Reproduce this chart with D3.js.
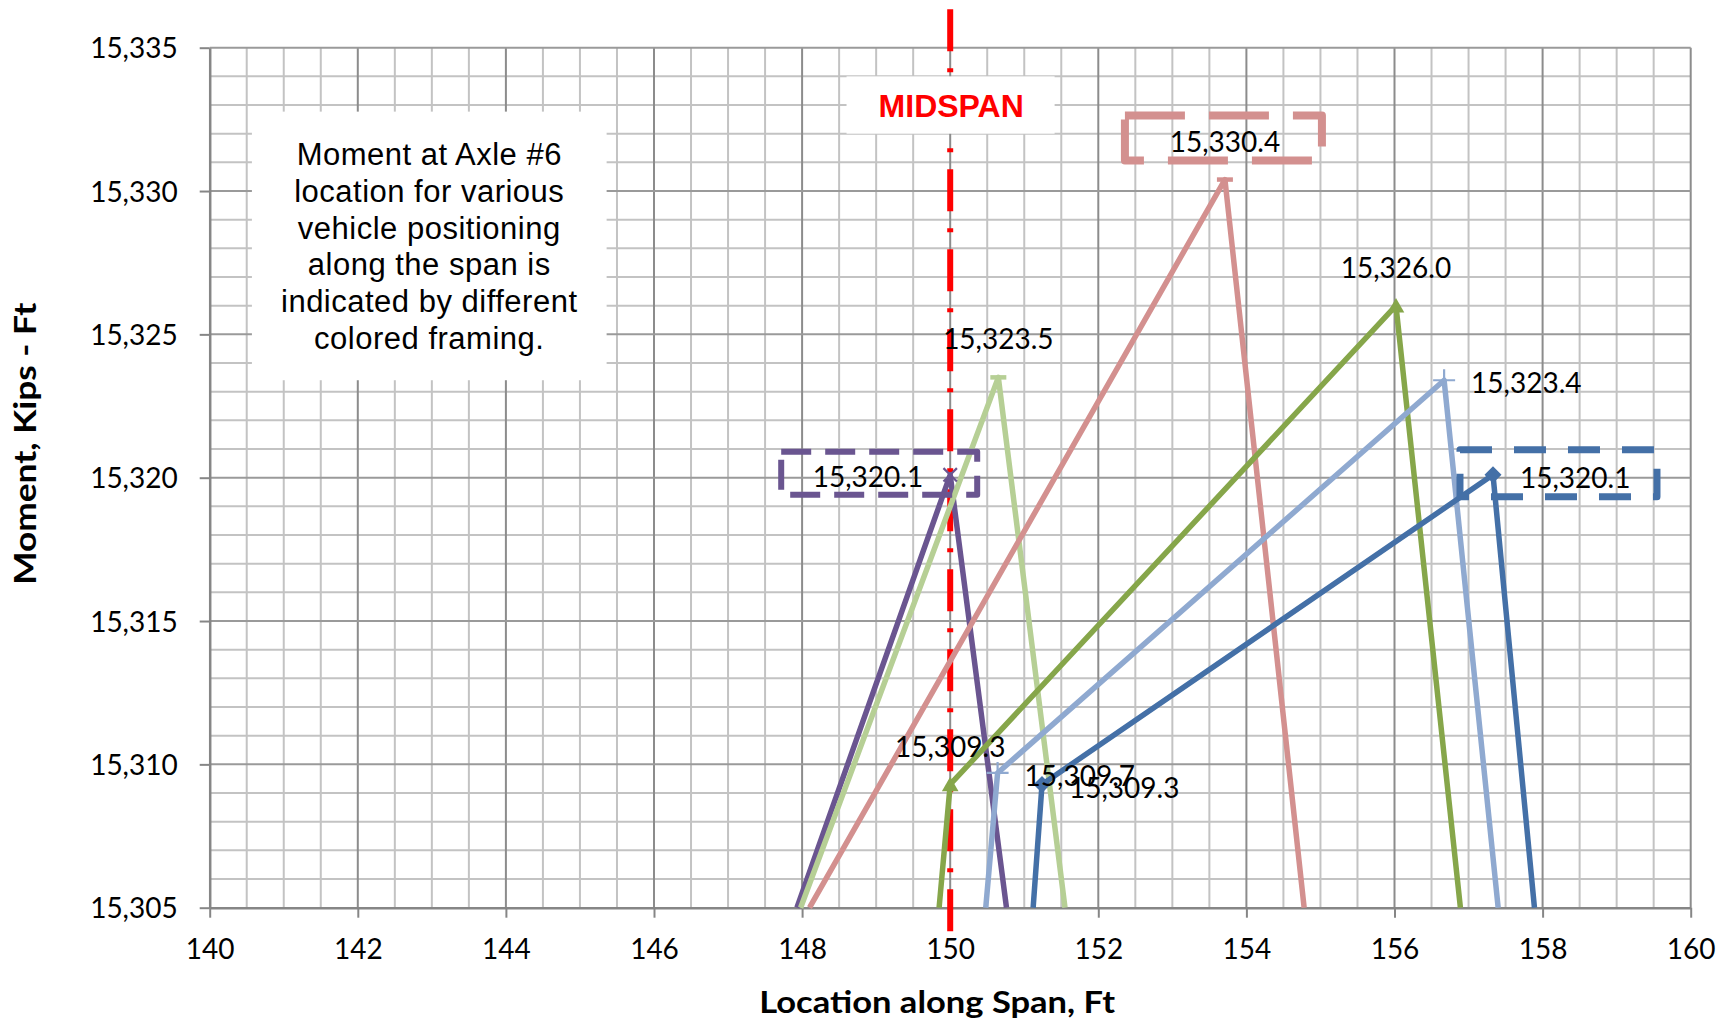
<!DOCTYPE html>
<html>
<head>
<meta charset="utf-8">
<script src="https://cdn.jsdelivr.net/npm/d3@7"></script>
<style>
  body { margin: 0; background: #ffffff; }
  svg { display: block; }
</style>
</head>
<body>
<svg id="chart" width="1726" height="1021"></svg>
<script>
// ---------------- DATA ----------------
const xTickValues = [140, 142, 144, 146, 148, 150, 152, 154, 156, 158, 160];
const yTickValues = [15305, 15310, 15315, 15320, 15325, 15330, 15335];
const xTitle = "Location along Span, Ft";
const yTitle = "Moment, Kips - Ft";
const midspanX = 150;
const midspanLabel = "MIDSPAN";
const noteLines = [
  "Moment at Axle #6",
  "location for various",
  "vehicle positioning",
  "along the span is",
  "indicated by different",
  "colored framing."
];

// Each vehicle position: location along span (ft) and moment (kip-ft)
const purpleX    = [147.93, 150.00, 150.76];
const purpleY    = [15305.0, 15320.1, 15305.0];
const lightGreenX = [147.98, 150.65, 151.55];
const lightGreenY = [15305.0, 15323.5, 15305.0];
const pinkX      = [148.10, 153.71, 154.78];
const pinkY      = [15305.0, 15330.4, 15305.0];
const oliveX     = [149.85, 150.00, 156.02, 156.89];
const oliveY     = [15305.0, 15309.3, 15326.0, 15305.0];
const lightBlueX = [150.48, 150.64, 156.67, 157.40];
const lightBlueY = [15305.0, 15309.7, 15323.4, 15305.0];
const darkBlueX  = [151.12, 151.24, 157.33, 157.89];
const darkBlueY  = [15305.0, 15309.3, 15320.1, 15305.0];

// ---------------- STYLE / LAYOUT ----------------
const seriesList = [
  { key: "purple",     xs: purpleX,     ys: purpleY,     color: "#6a5590", marker: "x",        labels: [{ i: 1, pos: "left" }] },
  { key: "lightGreen", xs: lightGreenX, ys: lightGreenY, color: "#b6cf95", marker: "dash",     labels: [{ i: 1, pos: "above" }] },
  { key: "pink",       xs: pinkX,       ys: pinkY,       color: "#d3908f", marker: "dash",     labels: [{ i: 1, pos: "above" }] },
  { key: "olive",      xs: oliveX,      ys: oliveY,      color: "#86a64a", marker: "triangle", labels: [{ i: 1, pos: "above" }, { i: 2, pos: "above" }] },
  { key: "lightBlue",  xs: lightBlueX,  ys: lightBlueY,  color: "#8fa9d0", marker: "plus",     labels: [{ i: 1, pos: "right" }, { i: 2, pos: "right" }] },
  { key: "darkBlue",   xs: darkBlueX,   ys: darkBlueY,   color: "#4470a7", marker: "diamond",  labels: [{ i: 1, pos: "right" }, { i: 2, pos: "right" }] }
];

// dashed frames around chosen labels (offsets relative to the framed point)
const frames = [
  { key: "purple",   i: 1, dx: -169, dy: -23, w: 196, h: 43, dash: "30 14", sw: 6 },
  { key: "pink",     i: 1, dx: -100, dy: -64, w: 197, h: 45, dash: "60 24", sw: 8 },
  { key: "darkBlue", i: 2, dx: -33,  dy: -25, w: 197, h: 47, dash: "32 22", sw: 7 }
];

const W = 1726, H = 1021;
const plot = { left: 209.7, right: 1690.7, top: 47.7, bottom: 907.7 };

const svg = d3.select("#chart");
const x = d3.scaleLinear().domain([140, 160]).range([plot.left, plot.right]);
const y = d3.scaleLinear().domain([15305, 15335]).range([plot.bottom, plot.top]);

// ---------------- GRID ----------------
const grid = svg.append("g");
const minorX = d3.range(140, 160.001, 0.5).filter(v => Math.abs(v / 2 - Math.round(v / 2)) > 1e-6);
const minorY = d3.range(15305, 15335.001, 1).filter(v => v % 5 !== 0);
grid.selectAll("line.mx").data(minorX).join("line")
  .attr("x1", d => x(d)).attr("x2", d => x(d)).attr("y1", plot.top).attr("y2", plot.bottom)
  .attr("stroke", "#c3c3c3").attr("stroke-width", 2);
grid.selectAll("line.my").data(minorY).join("line")
  .attr("x1", plot.left).attr("x2", plot.right).attr("y1", d => y(d)).attr("y2", d => y(d))
  .attr("stroke", "#c3c3c3").attr("stroke-width", 2);
grid.selectAll("line.Mx").data(xTickValues.slice(1)).join("line")
  .attr("x1", d => x(d)).attr("x2", d => x(d)).attr("y1", plot.top).attr("y2", plot.bottom)
  .attr("stroke", "#8c8c8c").attr("stroke-width", 2);
grid.selectAll("line.My").data(yTickValues.slice(1)).join("line")
  .attr("x1", plot.left).attr("x2", plot.right).attr("y1", d => y(d)).attr("y2", d => y(d))
  .attr("stroke", "#9a9a9a").attr("stroke-width", 2);

// ---------------- NOTE BOX ----------------
const noteBox = { x0: x(140.57), x1: x(145.36), y0: y(15332.77), y1: y(15323.4) };
svg.append("rect")
  .attr("x", noteBox.x0).attr("y", noteBox.y0)
  .attr("width", noteBox.x1 - noteBox.x0).attr("height", noteBox.y1 - noteBox.y0)
  .attr("fill", "#ffffff");
const noteCx = (noteBox.x0 + noteBox.x1) / 2;
svg.append("g").selectAll("text").data(noteLines).join("text")
  .attr("x", noteCx)
  .attr("y", (d, i) => noteBox.y0 + 53.5 + i * 36.7)
  .attr("text-anchor", "middle")
  .attr("font-family", "'Liberation Sans', Arial, sans-serif")
  .attr("font-size", 31)
  .attr("letter-spacing", 0.5)
  .attr("fill", "#000")
  .text(d => d);

// ---------------- AXES ----------------
const fmt = d3.format(",");
const xAxis = svg.append("g").attr("transform", `translate(0,${plot.bottom})`)
  .call(d3.axisBottom(x).tickValues(xTickValues).tickSize(10).tickSizeOuter(0).tickFormat(d3.format("d")));
xAxis.select(".domain").attr("stroke", "#868686").attr("stroke-width", 2.5);
xAxis.selectAll(".tick line").attr("stroke", "#868686").attr("stroke-width", 2);
xAxis.selectAll(".tick text")
  .attr("y", 51).attr("dy", null)
  .attr("font-family", "Lato, 'Open Sans', sans-serif").attr("font-size", 28).attr("fill", "#000");

const yAxis = svg.append("g").attr("transform", `translate(${plot.left},0)`)
  .call(d3.axisLeft(y).tickValues(yTickValues).tickSize(10).tickSizeOuter(0).tickFormat(fmt));
yAxis.select(".domain").attr("stroke", "#868686").attr("stroke-width", 2.5);
yAxis.selectAll(".tick line").attr("stroke", "#868686").attr("stroke-width", 2);
yAxis.selectAll(".tick text")
  .attr("x", -32).attr("dy", "0.36em")
  .attr("font-family", "Lato, 'Open Sans', sans-serif").attr("font-size", 28).attr("fill", "#000");

svg.append("text")
  .attr("x", (plot.left + plot.right) / 2 - 13).attr("y", 1013)
  .attr("text-anchor", "middle")
  .attr("font-family", "Lato, 'Open Sans', sans-serif").attr("font-weight", "bold")
  .attr("font-size", 30).attr("textLength", 356).attr("lengthAdjust", "spacingAndGlyphs")
  .text(xTitle);
svg.append("text")
  .attr("transform", `translate(36,${(plot.top + plot.bottom) / 2 - 34}) rotate(-90)`)
  .attr("text-anchor", "middle")
  .attr("font-family", "Lato, 'Open Sans', sans-serif").attr("font-weight", "bold")
  .attr("font-size", 30).attr("textLength", 282).attr("lengthAdjust", "spacingAndGlyphs")
  .text(yTitle);

// ---------------- MIDSPAN LINE ----------------
svg.append("line")
  .attr("x1", x(midspanX)).attr("x2", x(midspanX))
  .attr("y1", y(15335) - 38.4).attr("y2", y(15305) + 23.6)
  .attr("stroke", "#ff0000").attr("stroke-width", 6)
  .attr("stroke-dasharray", "42 17 4 17");

// ---------------- SERIES ----------------
const lineGen = d3.line().x(d => x(d[0])).y(d => y(d[1]));
const seriesG = svg.append("g");
seriesList.forEach(s => {
  const pts = s.xs.map((v, i) => [v, s.ys[i]]);
  seriesG.append("path")
    .datum(pts)
    .attr("d", lineGen)
    .attr("fill", "none")
    .attr("stroke", s.color)
    .attr("stroke-width", 5.5)
    .attr("stroke-linejoin", "round");
});

// markers on labeled points
function drawMarker(g, s, px, py) {
  if (s.marker === "x") {
    g.append("path").attr("transform", `translate(${px},${py})`)
      .attr("d", d3.symbol(d3.symbolTimes, 120)())
      .attr("fill", "none").attr("stroke", s.color).attr("stroke-width", 2.2);
  } else if (s.marker === "plus") {
    g.append("path").attr("transform", `translate(${px},${py})`)
      .attr("d", d3.symbol(d3.symbolPlus, 160)())
      .attr("fill", "none").attr("stroke", s.color).attr("stroke-width", 2.2);
  } else if (s.marker === "dash") {
    g.append("line").attr("x1", px - 8).attr("x2", px + 8).attr("y1", py).attr("y2", py)
      .attr("stroke", s.color).attr("stroke-width", 4.5);
  } else if (s.marker === "triangle") {
    g.append("path").attr("transform", `translate(${px},${py + 2})`)
      .attr("d", d3.symbol(d3.symbolTriangle, 120)())
      .attr("fill", s.color);
  } else if (s.marker === "diamond") {
    const r = 8.5;
    g.append("path")
      .attr("d", `M${px},${py - r}L${px + r},${py}L${px},${py + r}L${px - r},${py}Z`)
      .attr("fill", s.color);
  }
}
const markerG = svg.append("g");
seriesList.forEach(s => {
  s.labels.forEach(l => drawMarker(markerG, s, x(s.xs[l.i]), y(s.ys[l.i])));
});

// ---------------- FRAMES ----------------
const frameG = svg.append("g");
frames.forEach(f => {
  const s = seriesList.find(t => t.key === f.key);
  const px = x(s.xs[f.i]), py = y(s.ys[f.i]);
  frameG.append("rect")
    .attr("x", px + f.dx).attr("y", py + f.dy)
    .attr("width", f.w).attr("height", f.h)
    .attr("fill", "none").attr("stroke", s.color)
    .attr("stroke-width", f.sw).attr("stroke-dasharray", f.dash)
    .attr("stroke-linejoin", "round");
});

// ---------------- DATA LABELS ----------------
const labelFmt = d3.format(",.1f");
const labelG = svg.append("g")
  .attr("font-family", "Lato, 'Open Sans', sans-serif").attr("font-size", 28).attr("fill", "#000");
seriesList.forEach(s => {
  s.labels.forEach(l => {
    const px = x(s.xs[l.i]), py = y(s.ys[l.i]);
    const t = labelG.append("text").text(labelFmt(s.ys[l.i])).attr("dy", "0.36em");
    if (l.pos === "left") t.attr("x", px - 27).attr("y", py + 2).attr("text-anchor", "end");
    else if (l.pos === "right") t.attr("x", px + 27).attr("y", py + 3).attr("text-anchor", "start");
    else t.attr("x", px).attr("y", py - 38).attr("text-anchor", "middle");
  });
});

// ---------------- MIDSPAN LABEL ----------------
const msX0 = x(148.6), msX1 = x(151.41);
svg.append("rect")
  .attr("x", msX0).attr("y", y(15334)).attr("width", msX1 - msX0).attr("height", y(15332) - y(15334))
  .attr("fill", "#ffffff");
svg.append("text")
  .attr("x", x(midspanX) + 1).attr("y", (y(15334) + y(15332)) / 2 + 11.5)
  .attr("text-anchor", "middle")
  .attr("font-family", "'Liberation Sans', Arial, sans-serif").attr("font-weight", "bold")
  .attr("font-size", 32).attr("fill", "#ff0000")
  .text(midspanLabel);
</script>
</body>
</html>
